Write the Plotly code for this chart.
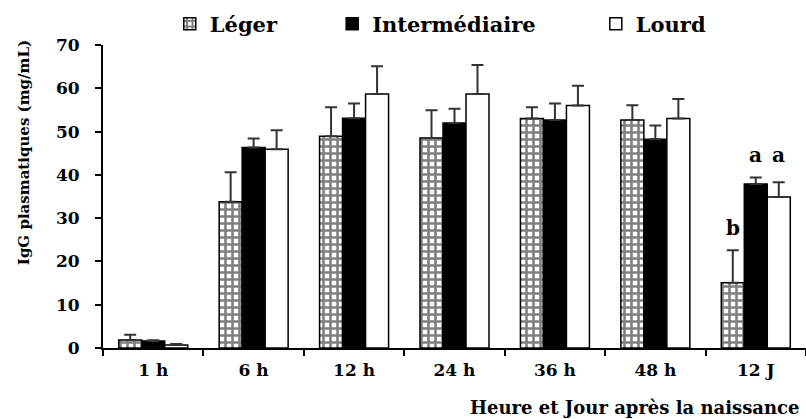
import plotly.graph_objects as go

# Sampling times after birth
categories = ["1 h", "6 h", "12 h", "24 h", "36 h", "48 h", "12 J"]

# Plasma IgG (mg/mL) by birth-weight class, mean and upper error
leger = [1.85, 33.8, 48.9, 48.5, 53.0, 52.7, 15.1]
leger_err = [1.2, 6.8, 6.7, 6.4, 2.6, 3.4, 7.5]
inter = [1.6, 46.3, 53.1, 52.0, 52.7, 48.2, 37.9]
inter_err = [0.2, 2.1, 3.4, 3.3, 3.8, 3.2, 1.5]
lourd = [0.7, 45.9, 58.7, 58.7, 56.0, 53.0, 34.9]
lourd_err = [0.2, 4.4, 6.4, 6.7, 4.6, 4.5, 3.4]

# Significance letters on the last time point
letters_12j = ["b", "a", "a"]

y_ticks = [0, 10, 20, 30, 40, 50, 60, 70]

SERIF = "DejaVu Serif"
BARGAP = 0.313

err_style = dict(type="data", symmetric=False, color="#333333", thickness=2, width=6)

fig = go.Figure()

series = [
    ("Léger", leger, leger_err,
     dict(color="white", line=dict(color="black", width=1.5),
          pattern=dict(shape="+", size=7, solidity=0.6, fgcolor="black",
                       bgcolor="white", fillmode="overlay")), "legend"),
    ("Intermédiaire", inter, inter_err,
     dict(color="black", line=dict(color="black", width=1.5)), "legend2"),
    ("Lourd", lourd, lourd_err,
     dict(color="white", line=dict(color="black", width=1.5)), "legend3"),
]

for name, vals, errs, marker, leg in series:
    fig.add_trace(go.Bar(
        name=name, x=categories, y=vals, marker=marker, legend=leg,
        showlegend=True,
        error_y=dict(array=errs, arrayminus=[0] * len(errs), **err_style),
    ))

# Letters above the 12 J bars
bar_w = (1 - BARGAP) / 3
last = len(categories) - 1
tops = [s[1][last] + s[2][last] for s in series]
a_top = max(tops[1], tops[2])
for k, letter in enumerate(letters_12j):
    fig.add_annotation(
        x=last + (k - 1) * bar_w, y=tops[k] if letter == "b" else a_top,
        text=letter, showarrow=False, xanchor="center", yanchor="bottom",
        yshift=8, font=dict(family=SERIF, size=20, color="black", weight="bold"),
    )

# Axis titles
fig.add_annotation(
    text="IgG plasmatiques (mg/mL)", textangle=-90, showarrow=False,
    xref="paper", yref="paper", x=-0.112, y=0.644,
    xanchor="center", yanchor="middle",
    font=dict(family=SERIF, size=15, color="black", weight="bold"),
)
fig.add_annotation(
    text="Heure et Jour après la naissance", showarrow=False,
    xref="paper", yref="paper", x=0.995, y=-0.197,
    xanchor="right", yanchor="middle",
    font=dict(family=SERIF, size=18, color="black", weight="bold"),
)

leg_font = dict(family=SERIF, size=21, color="black", weight="bold")
leg_common = dict(orientation="h", yanchor="middle", y=1.069, xanchor="left",
                  font=leg_font, bgcolor="rgba(0,0,0,0)", borderwidth=0,
                  itemwidth=30, visible=True)

fig.update_layout(
    width=806, height=419, autosize=False,
    margin=dict(l=103, r=0, t=45, b=71),
    plot_bgcolor="white", paper_bgcolor="white",
    showlegend=True,
    barmode="group", bargap=BARGAP, bargroupgap=0,
    legend=dict(x=0.095, **leg_common),
    legend2=dict(x=0.326, **leg_common),
    legend3=dict(x=0.701, **leg_common),
    xaxis=dict(
        range=[-0.5, 6.5], showline=True, linecolor="black", linewidth=2,
        ticks="outside", tickson="boundaries", ticklen=6, tickwidth=2,
        tickcolor="black", showgrid=False, zeroline=False,
        tickfont=dict(family=SERIF, size=17, color="black", weight="bold"),
        ticklabelstandoff=6,
    ),
    yaxis=dict(
        range=[0, 70], tickvals=y_ticks, showline=True, linecolor="black",
        linewidth=2, ticks="outside", ticklen=6, tickwidth=2, tickcolor="black",
        showgrid=False, zeroline=False,
        tickfont=dict(family=SERIF, size=17, color="black", weight="bold"),
        ticklabelstandoff=12,
    ),
)

fig.write_html("out.html")
